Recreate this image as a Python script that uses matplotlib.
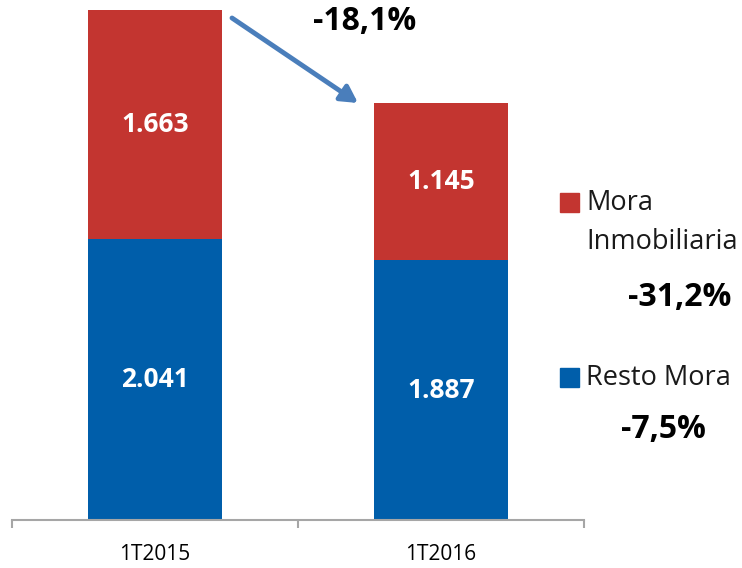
import matplotlib.pyplot as plt
from matplotlib.patches import Rectangle

CATEGORIES = ["1T2015", "1T2016"]
RESTO_MORA = [2041, 1887]
MORA_INMOB = [1663, 1145]
LABELS_RESTO = ["2.041", "1.887"]
LABELS_INMOB = ["1.663", "1.145"]
TOTAL_CHANGE = "-18,1%"
INMOB_CHANGE = "-31,2%"
RESTO_CHANGE = "-7,5%"

RED = "#C33530"
BLUE = "#005EAA"
ARROW = "#4A7EBB"
AXIS_GRAY = "#A6A6A6"

W, H = 742, 568


def main():
    fig = plt.figure(figsize=(W / 100, H / 100), dpi=100)
    ax = fig.add_axes([12 / W, 48 / H, 572 / W, 510 / H])

    x = list(range(len(CATEGORIES)))
    width = 0.47
    blue_bars = ax.bar(x, RESTO_MORA, width, color=BLUE)
    red_bars = ax.bar(x, MORA_INMOB, width, bottom=RESTO_MORA, color=RED)

    label_font = dict(color="white", fontsize=19, fontweight="bold", family=["Open Sans", "DejaVu Sans"])
    ax.bar_label(blue_bars, labels=LABELS_RESTO, label_type="center", **label_font)
    ax.bar_label(red_bars, labels=LABELS_INMOB, label_type="center", **label_font)

    ax.set_xlim(-0.5, 1.5)
    ax.set_ylim(0, RESTO_MORA[0] + MORA_INMOB[0])

    for side in ["top", "right", "left"]:
        ax.spines[side].set_visible(False)
    ax.spines["bottom"].set_color(AXIS_GRAY)
    ax.spines["bottom"].set_linewidth(1.5)
    ax.set_yticks([])

    ax.set_xticks(x)
    ax.set_xticklabels(CATEGORIES, family=["Open Sans", "DejaVu Sans"], fontsize=15)
    ax.tick_params(axis="x", which="major", length=0, pad=17)
    ax.set_xticks([-0.5, 0.5, 1.5], minor=True)
    ax.tick_params(axis="x", which="minor", length=6, width=1.5, color=AXIS_GRAY, direction="out")

    # arrow between bar tops
    ax.annotate("", xy=(358, H - 103), xytext=(232, H - 18),
                xycoords="figure pixels", textcoords="figure pixels",
                arrowprops=dict(arrowstyle="-|>,head_length=1.0,head_width=0.55",
                                color=ARROW, lw=3.5, shrinkA=0, shrinkB=0))

    pct_font = dict(fontsize=23, fontweight="bold", color="black",
                    family=["Open Sans", "DejaVu Sans"], ha="center", va="center")
    fig.text(365 / W, 1 - 22 / H, TOTAL_CHANGE, **pct_font)
    fig.text(680 / W, 1 - 297 / H, INMOB_CHANGE, **pct_font)
    fig.text(663 / W, 1 - 430 / H, RESTO_CHANGE, **pct_font)

    # legend drawn by hand
    leg_font = dict(fontsize=19.5, color="#1A1A1A", family=["Open Sans", "DejaVu Sans"],
                    ha="left", va="center")
    fig.add_artist(Rectangle((560 / W, 1 - 212 / H), 19 / W, 19 / H,
                             transform=fig.transFigure, color=RED))
    fig.text(586 / W, 1 - 203 / H, "Mora", **leg_font)
    fig.text(586 / W, 1 - 242 / H, "Inmobiliaria", **leg_font)
    fig.add_artist(Rectangle((560 / W, 1 - 387 / H), 19 / W, 19 / H,
                             transform=fig.transFigure, color=BLUE))
    fig.text(586 / W, 1 - 378 / H, "Resto Mora", **leg_font)

    fig.savefig("out.png", dpi=100)


if __name__ == "__main__":
    main()
